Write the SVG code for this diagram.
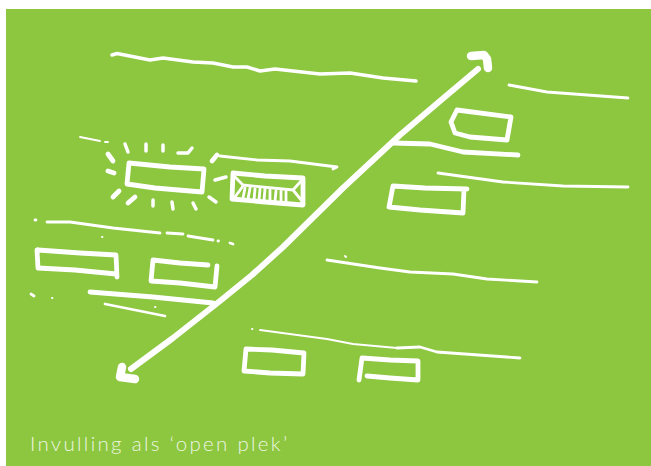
<svg xmlns="http://www.w3.org/2000/svg" width="651" height="466" viewBox="0 0 651 466">
<style>
.l{fill:none;stroke:#fff;stroke-linecap:round;stroke-linejoin:round}
.s{stroke-width:1.8}.t{stroke-width:2.8}.m{stroke-width:3.500}.b{stroke-width:4.800}.h{stroke-width:6}.x{stroke-width:8.500}
</style>
<rect width="651" height="466" fill="#fff"/>
<rect x="6" y="9" width="645" height="457" fill="#8dc63f"/>
<g id="road-lines">
<path class="l m" d="M112 55L117 53.500L150 60L163 58L193 62L213 63L233 67L247 67L260 71L275 69L320 74L350 73L383 78L416 81"/>
<path class="l t" d="M509 85L547 92L628 98"/>
<path class="l b" d="M393 143L430 144L463 152L518 155"/>
<path class="l t" d="M438 173L503 182L563 186L628 187"/>
<path class="l s" d="M80 137L100 141M105 142L108 142"/>
<path class="l t" d="M220 156L257 160L290 161L337 167L333 169"/>
<path class="l t" d="M35 220L36 220M47 222L70 222L113 228L160 233M167 233L183 234M188 236L213 240M218 241L218.500 241M230 243L233 244"/>
<path class="l b" d="M90 292L153 297L213 303"/>
<path class="l t" d="M105 304L165 316M31 294L34 296"/>
<path class="l t" d="M327 260L380 268L410 272L453 274L487 279L537 282"/>
<path class="l s" d="M260 330L327 339L353 344L397 348"/>
<path class="l t" d="M397 348L420 347L437 352L520 358"/>
<path class="l s" d="M102 237L102.500 237M52 298L52.500 298M155 307L155.500 307M252 329L252.500 329M345 256L346 257"/>
</g>
<g id="main-arrow">
<path class="l h" d="M131 369L173 338L220 301L252 275L283 247L343 188L400 135L440 101L478 69"/>
<path class="l x" d="M471 56L484 55L487 59L488 68"/>
<path class="l x" d="M122 367L120 377L135 379"/>
</g>
<g id="box-lit"><path class="l b" d="M129 163L170 167L204 169L202 192L155 188L127 184Z"/></g>
<g id="rays">
<path class="l b" d="M108 154L113 161M108 171L114 173M113 197L119 191M128 203L135 197M212 161L217 155"/>
<path class="l m" d="M153 200L153 206M172 202L173 209M193 203L196 209M209 197L216 202M215 180L226 177M125 144L128 152M146 144L146 151M163 145L163 151M178 153L188 153L192 148"/>
</g>
<g id="box-hatched">
<path class="l b" d="M233 173L265 176L303 178L303 205L265 202L232 199Z"/>
<path class="l t" d="M235 177L243 185L293 190L302 180M235 197L243 186M302 201L293 190"/>
<path class="l t" d="M245 188L243 198M250 188L248 199M255 189L254 200M260 189L259 200M265 189L264 200M270 190L270 201M276 191L275 201M281 191L281 202M286 191L286 202"/>
</g>
<g id="box-a"><path class="l b" d="M38 250L80 253L116 255L117 277M116 274L75 270L38 268L37 250"/></g>
<g id="box-b"><path class="l b" d="M208 265L180 263L153 260L151 281L180 283L215 287L217 266"/></g>
<g id="box-c"><path class="l b" d="M246 349L272 350L304 353L303 374L270 373L244 371Z"/></g>
<g id="box-d"><path class="l b" d="M359 380L362 358L390 360L418 361L418 380L390 378L367 376"/></g>
<g id="box-e"><path class="l b" d="M457 110L511 117L507 140L470 137L455 133L451 122Z"/></g>
<g id="box-f"><path class="l b" d="M467 189L425 188L393 186L389 207L420 210L463 213L464 189"/></g>
<text x="30" y="451" font-family="Lato,'Open Sans',sans-serif" font-size="20.500" font-weight="300" letter-spacing="2.300" fill="#fff" opacity=".85">Invulling als ‘open plek’</text>
</svg>
